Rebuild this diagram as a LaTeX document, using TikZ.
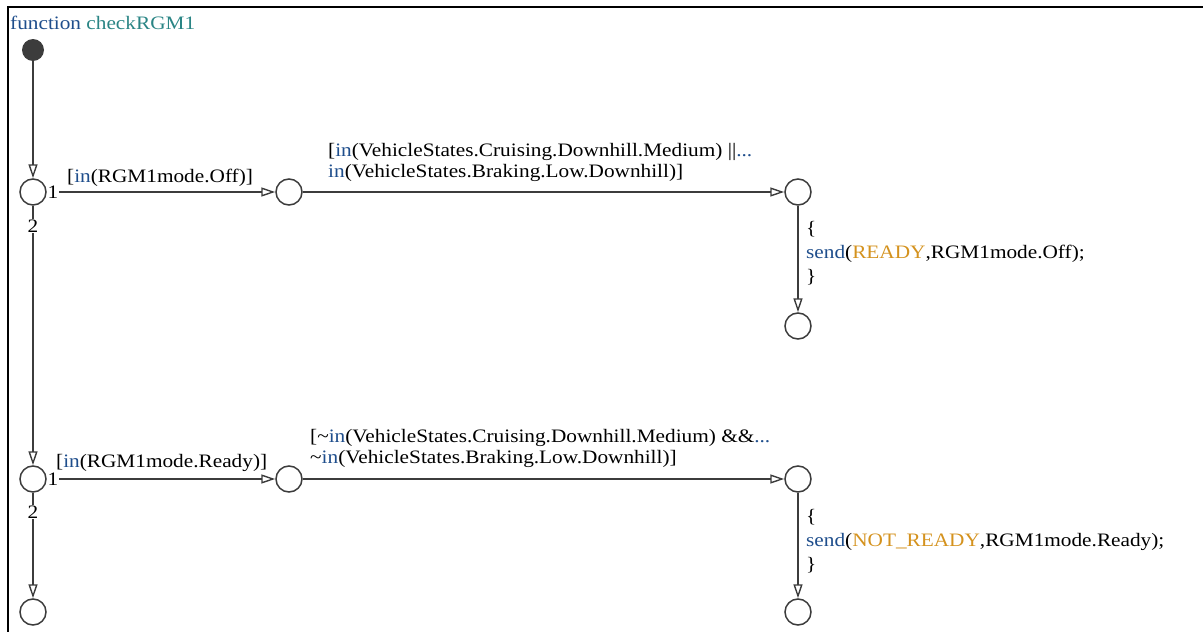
\documentclass[tikz,border=0pt]{standalone}
\usepackage{fontspec}
\setmainfont{Liberation Serif}[FakeStretch=1.12]
\usetikzlibrary{arrows.meta}
\definecolor{kw}{HTML}{1F4E8C}
\definecolor{fn}{HTML}{2A8585}
\definecolor{ev}{HTML}{D4921E}
\definecolor{ln}{HTML}{3C3C3C}
\begin{document}
\begin{tikzpicture}[x=1pt,y=-1pt,
  font=\fontsize{19}{21}\selectfont,
  junc/.style={circle,draw=ln,line width=1.5pt,minimum size=26pt,inner sep=0pt},
  startdot/.style={circle,fill=ln,minimum size=22pt,inner sep=0pt},
  tr/.style={draw=ln,line width=1.6pt,-{Triangle[open,length=14pt,width=9pt,line width=1.4pt]}},
  lbl/.style={anchor=base west,inner sep=0pt},
  num/.style={fill=white,inner sep=1pt}]
\useasboundingbox (0,0) rectangle (1203,632);
\draw[line width=2pt] (8,632) -- (8,7) -- (1203,7);

\node[lbl] (title) at (10,29) {\textcolor{kw}{function} \textcolor{fn}{checkRGM1}};

\node[startdot] (s) at (33,50) {};
\node[junc] (A1) at (33,192) {};
\node[junc] (B1) at (289,192) {};
\node[junc] (C1) at (798,192) {};
\node[junc] (D1) at (798,326) {};
\node[junc] (A2) at (33,479) {};
\node[junc] (B2) at (289,479) {};
\node[junc] (C2) at (798,479) {};
\node[junc] (D2) at (798,612) {};
\node[junc] (E2) at (33,612) {};

\draw[tr] (s) -- (A1);
\draw[tr] (A1) -- (B1);
\draw[tr] (B1) -- (C1);
\draw[tr] (C1) -- (D1);
\draw[tr] (A1) -- (A2);
\draw[tr] (A2) -- (B2);
\draw[tr] (B2) -- (C2);
\draw[tr] (C2) -- (D2);
\draw[tr] (A2) -- (E2);

\node[num] (n1a) at (53,192) {1};
\node[num] (n2a) at (33,226) {2};
\node[num] (n1b) at (53,479) {1};
\node[num] (n2b) at (33,512) {2};

\node[lbl] (g1) at (67,182) {[\textcolor{kw}{in}(RGM1mode.Off)]};
\node[lbl] (g2a) at (328,156) {[\textcolor{kw}{in}(VehicleStates.Cruising.Downhill.Medium) ||\textcolor{kw}{...}};
\node[lbl] (g2b) at (328,177) {\textcolor{kw}{in}(VehicleStates.Braking.Low.Downhill)]};
\node[lbl] (a1a) at (806,234) {\{};
\node[lbl] (a1b) at (806,258) {\textcolor{kw}{send}(\textcolor{ev}{READY},RGM1mode.Off);};
\node[lbl] (a1c) at (806,282) {\}};

\node[lbl] (h1) at (56,467) {[\textcolor{kw}{in}(RGM1mode.Ready)]};
\node[lbl] (h2a) at (310,442) {[\textasciitilde\textcolor{kw}{in}(VehicleStates.Cruising.Downhill.Medium) \&\&\textcolor{kw}{...}};
\node[lbl] (h2b) at (310,463) {\textasciitilde\textcolor{kw}{in}(VehicleStates.Braking.Low.Downhill)]};
\node[lbl] (a2a) at (806,522) {\{};
\node[lbl] (a2b) at (806,546) {\textcolor{kw}{send}(\textcolor{ev}{NOT\_READY},RGM1mode.Ready);};
\node[lbl] (a2c) at (806,570) {\}};
\end{tikzpicture}
\end{document}
